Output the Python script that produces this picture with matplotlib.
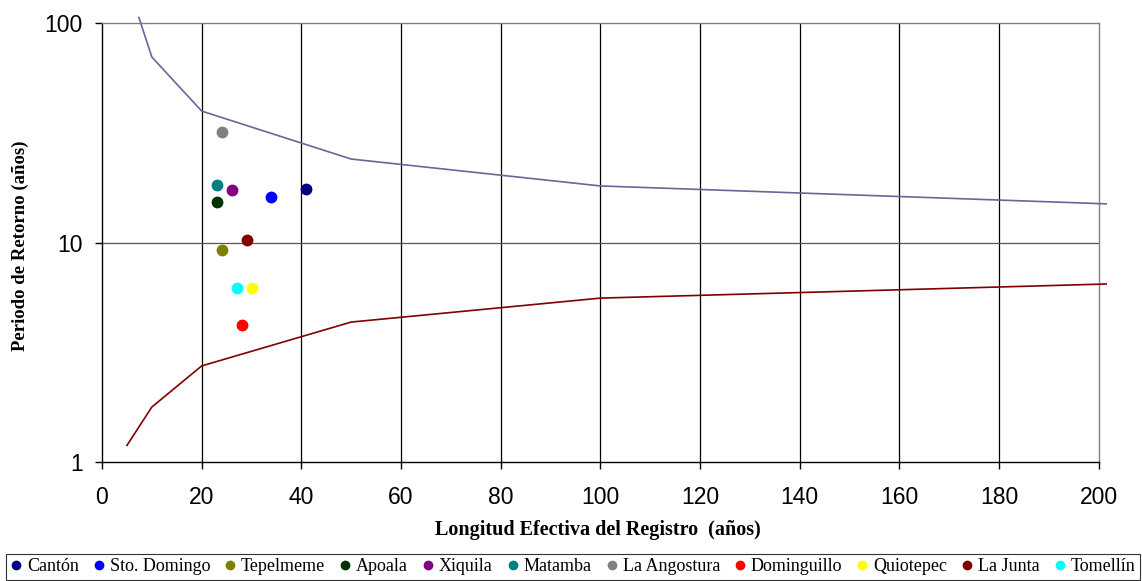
import matplotlib
matplotlib.use("Agg")
import matplotlib.pyplot as plt
from matplotlib.ticker import FixedLocator, FixedFormatter, NullLocator

# ---- data ----
stations = ["Cantón", "Sto. Domingo", "Tepelmeme", "Apoala", "Xiquila", "Matamba",
            "La Angostura", "Dominguillo", "Quiotepec", "La Junta", "Tomellín"]
station_x = [41, 34, 24, 23, 26, 23, 24, 28, 30, 29, 27]
station_y = [17.5, 16.1, 9.2, 15.3, 17.3, 18.3, 31.9, 4.2, 6.2, 10.3, 6.2]
station_colors = ["#000080", "#0000FF", "#808000", "#003300", "#800080", "#008080",
                  "#808080", "#FF0000", "#FFFF00", "#800000", "#00FFFF"]

upper_x = [7.4, 10, 20, 50, 100, 201.5]
upper_y = [106, 70, 39.7, 24.0, 18.1, 15.0]
lower_x = [5, 10, 20, 50, 100, 201.5]
lower_y = [1.19, 1.78, 2.74, 4.34, 5.58, 6.47]

x_ticks = [0, 20, 40, 60, 80, 100, 120, 140, 160, 180, 200]
y_ticks = [1, 10, 100]
y_tick_labels = ["1", "10", "100"]

# ---- figure ----
W, H = 1142, 581
fig = plt.figure(figsize=(W / 100, H / 100), dpi=100)
ax = fig.add_axes([102 / W, 1 - 462 / H, (1098.7 - 102) / W, (462 - 23) / H])

ax.set_xlim(0, 200)
ax.set_yscale("log")
ax.set_ylim(1, 100)

# grid lines
for xv in x_ticks[1:-1]:
    ax.axvline(xv, color="black", lw=0.9, zorder=1)
ax.axhline(10, color="#555555", lw=0.9, zorder=1)

ax.plot(upper_x, upper_y, color="#666699", lw=1.2, zorder=3, clip_on=False)
ax.plot(lower_x, lower_y, color="#800000", lw=1.2, zorder=3, clip_on=False)

for name, xv, yv, c in zip(stations, station_x, station_y, station_colors):
    ax.plot([xv], [yv], linestyle="none", marker="o", markersize=7.5,
            markerfacecolor=c, markeredgecolor=c, label=name, zorder=4)

# spines
ax.spines["left"].set_color("black")
ax.spines["bottom"].set_color("black")
ax.spines["top"].set_color("#808080")
ax.spines["right"].set_color("#808080")
for s in ax.spines.values():
    s.set_linewidth(1.0)

ax.xaxis.set_major_locator(FixedLocator(x_ticks))
ax.yaxis.set_major_locator(FixedLocator(y_ticks))
ax.yaxis.set_major_formatter(FixedFormatter(y_tick_labels))
ax.yaxis.set_minor_locator(NullLocator())
ax.tick_params(axis="both", which="major", direction="out", length=5, width=1.0,
               labelsize=16.5, color="black")
ax.tick_params(axis="x", pad=12)
ax.tick_params(axis="y", pad=9)
for lab in ax.get_xticklabels() + ax.get_yticklabels():
    lab.set_fontfamily("Liberation Sans")

fig.text(598 / W, 1 - 530 / H, "Longitud Efectiva del Registro  (años)",
         ha="center", va="center", fontsize=14.5, fontweight="bold",
         family="Liberation Serif")
fig.text(20 / W, 1 - 246 / H, "Periodo de Retorno (años)",
         ha="center", va="center", rotation=90, fontsize=13.5, fontweight="bold",
         family="Liberation Serif")

handles, labels = ax.get_legend_handles_labels()
leg = fig.legend(handles, labels, ncol=11, loc="lower left",
                 bbox_to_anchor=(6 / W, 1 / H, 1134 / W, 28 / H), mode="expand",
                 frameon=True, fancybox=False, borderaxespad=0, borderpad=0.25,
                 handlelength=0.6, handletextpad=0.3, columnspacing=0.2,
                 markerscale=0.8,
                 prop={"family": "Liberation Serif", "size": 13})
leg.get_frame().set_edgecolor("black")
leg.get_frame().set_linewidth(0.8)

fig.savefig("out.png", dpi=100)
